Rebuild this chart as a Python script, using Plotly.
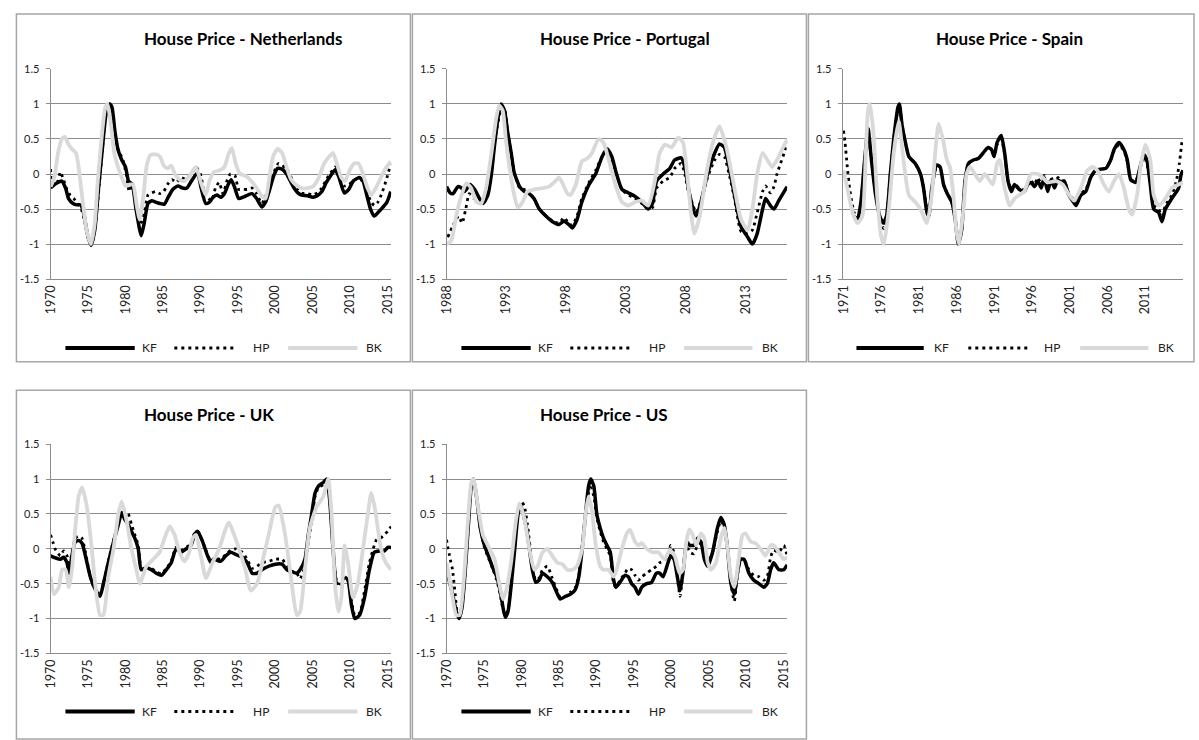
import plotly.graph_objects as go

W, H = 1199, 740

# ---------------- Netherlands ----------------
NL_KF_X = [1970, 1970.5, 1971, 1971.5, 1972, 1972.4, 1973, 1973.5, 1974, 1974.4, 1974.9, 1975.4, 1975.9, 1976.4,
           1976.9, 1977.4, 1977.9, 1978.2, 1978.6, 1979, 1979.5, 1980, 1980.4, 1980.9, 1981.4, 1982.1, 1982.5, 1983,
           1983.5, 1984, 1984.6, 1985.2, 1985.7, 1986.3, 1987, 1987.6, 1988.2, 1988.8, 1989.6, 1990.1, 1990.7,
           1991.2, 1991.7, 1992.2, 1992.7, 1993.2, 1993.7, 1994.1, 1994.6, 1995.1, 1995.7, 1996.3, 1996.9, 1997.5,
           1998.2, 1998.7, 1999.3, 1999.8, 2000.3, 2000.9, 2001.5, 2002, 2002.5, 2003, 2003.5, 2004.3, 2005, 2005.6,
           2006.2, 2006.8, 2007.4, 2008, 2008.5, 2009.2, 2009.8, 2010.4, 2011.2, 2011.7, 2012.2, 2012.7, 2013.2,
           2013.7, 2014.3, 2014.9, 2015.4]
NL_KF_Y = [-0.2, -0.15, -0.12, -0.1, -0.2, -0.35, -0.42, -0.44, -0.44, -0.55, -0.85, -1.02, -0.8, -0.2,
           0.35, 0.85, 1.0, 0.95, 0.6, 0.35, 0.2, 0.1, -0.1, -0.15, -0.5, -0.88, -0.7, -0.42,
           -0.38, -0.4, -0.42, -0.43, -0.33, -0.22, -0.17, -0.2, -0.2, -0.1, 0.02, -0.2, -0.42,
           -0.4, -0.33, -0.3, -0.33, -0.28, -0.15, -0.08, -0.2, -0.35, -0.33, -0.3, -0.28, -0.35,
           -0.47, -0.4, -0.2, -0.02, 0.08, 0.07, 0.0, -0.1, -0.2, -0.27, -0.3, -0.31, -0.33, -0.31,
           -0.25, -0.12, -0.02, 0.06, -0.05, -0.27, -0.22, -0.1, -0.05, -0.1, -0.3, -0.5, -0.6,
           -0.55, -0.48, -0.4, -0.25]
NL_HP_X = [1970, 1970.2, 1970.6, 1971, 1971.3, 1971.7, 1972.1, 1972.6, 1973.1, 1973.6, 1974.1, 1974.6, 1975.1,
           1975.5, 1976, 1976.5, 1977, 1977.5, 1978, 1978.5, 1979, 1979.6, 1980.1, 1980.5, 1980.9, 1981.4, 1982,
           1982.5, 1983, 1983.5, 1984, 1984.6, 1985.1, 1985.6, 1986.2, 1986.8, 1987.4, 1988, 1988.8, 1989.4, 1990,
           1990.6, 1991.1, 1991.5, 1992, 1992.5, 1993, 1993.6, 1994, 1994.6, 1995.1, 1995.7, 1996.3, 1996.9,
           1997.5, 1998.2, 1998.7, 1999.3, 1999.8, 2000.4, 2000.9, 2001.5, 2002, 2002.5, 2003, 2003.5, 2004.3,
           2005, 2005.6, 2006.2, 2006.8, 2007.4, 2008, 2008.5, 2009.2, 2009.8, 2010.4, 2011.2, 2011.7, 2012.2,
           2012.7, 2013.2, 2013.7, 2014.3, 2014.9, 2015.4]
NL_HP_Y = [0.07, -0.2, -0.12, -0.1, 0.03, -0.07, -0.2, -0.3, -0.35, -0.42, -0.5, -0.7, -0.95,
           -1.0, -0.7, -0.15, 0.45, 0.95, 1.0, 0.65, 0.35, 0.22, 0.0, -0.25, -0.15, -0.45, -0.72,
           -0.55, -0.3, -0.27, -0.25, -0.28, -0.25, -0.15, -0.08, -0.12, -0.05, -0.07, 0.0, 0.1, 0.0,
           -0.3, -0.35, -0.38, -0.2, -0.12, -0.28, -0.08, 0.0, -0.02, -0.22, -0.22, -0.22, -0.2,
           -0.28, -0.42, -0.32, -0.15, 0.02, 0.15, 0.12, 0.08, -0.02, -0.15, -0.22, -0.27, -0.28,
           -0.3, -0.27, -0.2, -0.08, 0.02, 0.1, -0.02, -0.17, -0.15, -0.1, -0.05, -0.12, -0.25,
           -0.38, -0.45, -0.4, -0.25, -0.05, 0.15]
NL_BK_X = [1970, 1970.5, 1971, 1971.5, 1971.9, 1972.4, 1972.9, 1973.4, 1973.8, 1974.3, 1974.8, 1975.4, 1975.9,
           1976.3, 1976.8, 1977.3, 1977.6, 1978, 1978.5, 1979, 1979.5, 1980, 1980.5, 1981, 1981.5, 1981.9, 1982.4,
           1982.8, 1983.3, 1984, 1984.6, 1985.1, 1985.6, 1986.1, 1986.6, 1987.2, 1987.8, 1988.4, 1989, 1989.4,
           1990, 1990.7, 1991.2, 1991.8, 1992.5, 1993.2, 1993.8, 1994.2, 1994.7, 1995.3, 1996.1, 1996.8, 1997.5,
           1998.1, 1998.7, 1999.2, 1999.7, 2000.3, 2000.9, 2001.5, 2002.1, 2002.8, 2003.5, 2004.3, 2005.1, 2005.8,
           2006.5, 2007.2, 2007.7, 2008.2, 2008.8, 2009.3, 2009.9, 2010.5, 2011.1, 2011.7, 2012.3, 2012.8, 2013.4,
           2014.1, 2014.7, 2015.4]
NL_BK_Y = [-0.18, -0.05, 0.3, 0.5, 0.53, 0.42, 0.35, 0.3, 0.05, -0.4, -0.8, -1.0, -0.7,
           -0.1, 0.5, 0.95, 1.0, 0.75, 0.3, 0.1, -0.05, -0.17, -0.15, -0.15, -0.45, -0.65, -0.3,
           0.1, 0.27, 0.28, 0.25, 0.12, 0.08, 0.12, 0.0, -0.08, -0.1, -0.05, 0.05, 0.1,
           -0.1, -0.3, -0.1, 0.03, 0.05, 0.1, 0.3, 0.37, 0.15, 0.0, -0.03, -0.1, -0.2,
           -0.3, -0.35, -0.05, 0.25, 0.36, 0.3, 0.1, -0.08, -0.16, -0.2, -0.2, -0.17, -0.05,
           0.15, 0.25, 0.3, 0.15, -0.05, -0.1, 0.05, 0.15, 0.15, 0.0, -0.2, -0.3, -0.2,
           -0.05, 0.08, 0.18]

# ---------------- Portugal ----------------
PT_KF_X = [1988.0, 1988.3, 1988.55, 1988.95, 1989.25, 1989.5, 1989.95, 1990.35, 1990.75, 1991.05, 1991.45,
           1991.75, 1992.0, 1992.3, 1992.55, 1992.85, 1993.1, 1993.4, 1993.65, 1994.1, 1994.5, 1994.9, 1995.3,
           1995.75, 1996.3, 1996.85, 1997.4, 1997.8, 1998.2, 1998.5, 1998.9, 1999.3, 1999.9, 2000.45, 2001.0,
           2001.4, 2001.8, 2002.2, 2002.65, 2003.2, 2003.75, 2004.3, 2004.85, 2005.2, 2005.55, 2006.1, 2006.65,
           2007.05, 2007.6, 2007.9, 2008.2, 2008.6, 2008.85, 2009.25, 2009.8, 2010.4, 2010.8, 2011.2, 2011.6,
           2012.05, 2012.6, 2013.15, 2013.55, 2013.95, 2014.4, 2014.65, 2015.05, 2015.35, 2015.75, 2016.45]
PT_KF_Y = [-0.18, -0.27, -0.28, -0.18, -0.2, -0.25, -0.15, -0.22, -0.35, -0.42, -0.3,
           0.0, 0.4, 0.8, 1.0, 0.9, 0.6, 0.3, 0.02, -0.18, -0.25, -0.28, -0.35,
           -0.5, -0.6, -0.68, -0.72, -0.67, -0.72, -0.77, -0.65, -0.4, -0.15, 0.0, 0.25,
           0.36, 0.25, 0.0, -0.22, -0.27, -0.32, -0.4, -0.5, -0.42, -0.1, 0.0, 0.08,
           0.2, 0.23, 0.1, -0.2, -0.5, -0.6, -0.4, 0.0, 0.3, 0.43, 0.38, 0.1,
           -0.3, -0.75, -0.9, -1.0, -0.85, -0.5, -0.35, -0.45, -0.5, -0.38, -0.18]
PT_HP_X = [1988.1, 1988.5, 1989.0, 1989.3, 1989.6, 1989.9, 1990.3, 1990.7, 1991.1, 1991.5, 1991.8, 1992.05,
           1992.35, 1992.6, 1992.85, 1993.1, 1993.4, 1993.7, 1994.1, 1994.5, 1994.9, 1995.3, 1995.75, 1996.3,
           1996.85, 1997.4, 1997.8, 1998.2, 1998.5, 1998.9, 1999.3, 1999.9, 2000.45, 2001.0, 2001.4, 2001.8,
           2002.2, 2002.65, 2003.2, 2003.75, 2004.3, 2004.85, 2005.2, 2005.55, 2006.1, 2006.65, 2007.05, 2007.6,
           2007.9, 2008.2, 2008.6, 2008.85, 2009.25, 2009.8, 2010.4, 2010.8, 2011.2, 2011.6, 2012.05, 2012.6,
           2013.15, 2013.55, 2013.95, 2014.4, 2014.65, 2015.05, 2015.35, 2015.6, 2015.9, 2016.2, 2016.45]
PT_HP_Y = [-0.9, -0.75, -0.6, -0.7, -0.5, -0.28, -0.35, -0.4, -0.42, -0.2, 0.1, 0.5,
           0.78, 0.95, 0.92, 0.6, 0.3, 0.0, -0.2, -0.22, -0.28, -0.35, -0.5, -0.6,
           -0.67, -0.7, -0.62, -0.7, -0.73, -0.6, -0.35, -0.12, 0.05, 0.25, 0.33, 0.22,
           0.0, -0.22, -0.3, -0.35, -0.42, -0.5, -0.48, -0.2, -0.1, -0.05, 0.08, 0.15,
           0.0, -0.25, -0.45, -0.55, -0.38, -0.05, 0.2, 0.28, 0.25, 0.0, -0.35, -0.82,
           -0.85, -0.8, -0.55, -0.25, -0.17, -0.27, -0.18, 0.0, 0.15, 0.3, 0.48]
PT_BK_X = [1988.0, 1988.4, 1988.8, 1989.25, 1989.65, 1990.05, 1990.5, 1990.9, 1991.3, 1991.75, 1992.15, 1992.4,
           1992.7, 1992.95, 1993.25, 1993.65, 1993.95, 1994.35, 1994.75, 1995.3, 1996.0, 1996.55, 1997.1, 1997.4,
           1997.65, 1998.1, 1998.35, 1998.8, 1999.3, 1999.75, 2000.15, 2000.7, 2001.1, 2001.55, 2002.1, 2002.65,
           2003.2, 2003.75, 2004.3, 2004.85, 2005.4, 2005.8, 2006.25, 2006.8, 2007.35, 2007.75, 2008.1, 2008.45,
           2008.7, 2009.15, 2009.7, 2010.25, 2010.8, 2011.35, 2012.05, 2012.6, 2013.15, 2013.55, 2013.95, 2014.4,
           2014.8, 2015.2, 2015.6, 2016.45]
PT_BK_Y = [-1.0, -0.95, -0.6, -0.3, -0.13, -0.2, -0.4, -0.42, -0.2, 0.3, 0.8, 0.98,
           0.9, 0.5, 0.1, -0.3, -0.48, -0.4, -0.25, -0.22, -0.2, -0.18, -0.1, -0.05,
           -0.12, -0.28, -0.3, -0.15, 0.18, 0.22, 0.3, 0.5, 0.45, 0.2, -0.15, -0.4,
           -0.45, -0.4, -0.38, -0.45, -0.1, 0.3, 0.42, 0.38, 0.52, 0.45, 0.0, -0.6,
           -0.85, -0.6, 0.0, 0.45, 0.68, 0.4, -0.2, -0.65, -0.8, -0.5, 0.0, 0.3,
           0.2, 0.1, 0.2, 0.5]

# ---------------- Spain ----------------
ES_KF_X = [1972.4, 1972.85, 1973.3, 1973.8, 1974.25, 1974.7, 1975.25, 1975.8, 1976.25, 1976.7, 1977.2, 1977.65,
           1978.2, 1978.4, 1978.75, 1979.2, 1979.65, 1980.5, 1981.2, 1981.6, 1982.05, 1982.3, 1982.7, 1983.35,
           1983.8, 1984.25, 1984.75, 1985.35, 1985.8, 1986.2, 1986.65, 1987.1, 1987.55, 1988.2, 1988.85, 1989.5,
           1990.15, 1990.6, 1990.95, 1991.35, 1991.9, 1992.35, 1992.8, 1993.25, 1993.65, 1994.3, 1994.95, 1995.4,
           1995.85, 1996.3, 1996.75, 1997.2, 1997.6, 1998.05, 1998.5, 1998.95, 1999.4, 1999.8, 2000.25, 2000.85,
           2001.35, 2001.8, 2002.45, 2003.1, 2003.75, 2004.4, 2005.1, 2005.75, 2006.4, 2006.85, 2007.5, 2008.15,
           2008.6, 2009.05, 2009.7, 2010.35, 2010.8, 2011.2, 2011.65, 2012.1, 2012.75, 2013.2, 2013.65, 2014.5,
           2015.4, 2015.75, 2016.0]
ES_KF_Y = [-0.6, -0.65, -0.4, 0.2, 0.65, 0.2, -0.3, -0.6, -0.7, -0.6, 0.0, 0.5,
           0.95, 1.0, 0.7, 0.45, 0.25, 0.15, 0.0, -0.2, -0.55, -0.6, -0.2, 0.13,
           0.1, -0.15, -0.28, -0.4, -0.65, -1.0, -0.8, -0.1, 0.15, 0.2, 0.22, 0.3,
           0.38, 0.35, 0.25, 0.45, 0.55, 0.3, -0.1, -0.25, -0.15, -0.22, -0.25, -0.15,
           -0.12, -0.18, -0.1, -0.2, -0.05, -0.25, -0.08, -0.2, -0.08, -0.12, -0.1, -0.3,
           -0.38, -0.45, -0.3, -0.25, -0.05, 0.05, 0.07, 0.08, 0.2, 0.35, 0.45, 0.35,
           0.2, -0.08, -0.12, 0.12, 0.28, 0.2, -0.15, -0.5, -0.55, -0.68, -0.5, -0.35,
           -0.2, 0.0, 0.05]
ES_HP_X = [1971.0, 1971.2, 1971.5, 1971.8, 1972.1, 1972.4, 1972.85, 1973.3, 1973.8, 1974.25, 1974.7, 1975.25,
           1975.8, 1976.3, 1976.7, 1977.2, 1977.65, 1978.2, 1978.4, 1978.75, 1979.2, 1979.65, 1980.5, 1981.2,
           1981.6, 1982.05, 1982.3, 1982.7, 1983.35, 1983.8, 1984.25, 1984.75, 1985.35, 1985.8, 1986.2, 1986.65,
           1987.1, 1987.55, 1988.2, 1988.85, 1989.5, 1990.15, 1990.6, 1990.95, 1991.35, 1991.9, 1992.35, 1992.8,
           1993.25, 1993.65, 1994.3, 1994.95, 1995.4, 1995.85, 1996.3, 1996.75, 1997.2, 1997.6, 1998.05, 1998.5,
           1998.95, 1999.4, 1999.8, 2000.25, 2000.85, 2001.35, 2001.8, 2002.45, 2003.1, 2003.75, 2004.4, 2005.1,
           2005.75, 2006.4, 2006.85, 2007.5, 2008.15, 2008.6, 2009.05, 2009.7, 2010.35, 2010.8, 2011.2, 2011.65,
           2012.1, 2012.75, 2013.2, 2013.65, 2014.5, 2015.1, 2015.5, 2015.85]
ES_HP_Y = [0.62, 0.45, 0.1, -0.2, -0.4, -0.55, -0.63, -0.4, 0.2, 0.6, 0.2, -0.3,
           -0.6, -0.78, -0.6, 0.0, 0.5, 0.92, 0.98, 0.7, 0.45, 0.25, 0.15, 0.0,
           -0.2, -0.5, -0.58, -0.2, 0.12, 0.1, -0.15, -0.28, -0.4, -0.65, -0.98, -0.8,
           -0.1, 0.15, 0.2, 0.22, 0.3, 0.38, 0.35, 0.25, 0.42, 0.5, 0.28, -0.1,
           -0.22, -0.15, -0.2, -0.22, -0.15, -0.1, -0.15, -0.05, -0.15, -0.02, -0.2, -0.05,
           -0.15, -0.05, -0.1, -0.1, -0.28, -0.35, -0.42, -0.28, -0.22, -0.05, 0.05, 0.07,
           0.08, 0.2, 0.33, 0.42, 0.33, 0.18, -0.08, -0.1, 0.1, 0.25, 0.15, -0.15,
           -0.45, -0.5, -0.6, -0.45, -0.3, -0.1, 0.15, 0.47]
ES_BK_X = [1971.0, 1971.5, 1972.2, 1972.85, 1973.5, 1973.95, 1974.25, 1974.5, 1974.95, 1975.45, 1976.0, 1976.35,
           1977.0, 1977.65, 1978.3, 1978.95, 1979.65, 1980.5, 1981.2, 1982.05, 1982.7, 1983.15, 1983.6, 1984.15,
           1984.7, 1985.1, 1985.55, 1986.0, 1986.3, 1986.9, 1987.3, 1987.75, 1988.4, 1989.05, 1989.7, 1990.4,
           1990.8, 1991.35, 1991.7, 1992.35, 1993.0, 1993.65, 1994.3, 1994.95, 1995.85, 1996.75, 1997.4, 1998.05,
           1999.15, 2000.05, 2000.9, 2001.55, 2002.45, 2003.3, 2004.0, 2004.65, 2005.5, 2006.15, 2006.85, 2007.5,
           2008.15, 2008.8, 2009.25, 2009.9, 2010.35, 2011.0, 2011.65, 2012.1, 2012.75, 2013.65, 2014.5, 2015.4,
           2016.0]
ES_BK_Y = [0.05, -0.2, -0.55, -0.7, -0.6, 0.3, 0.92, 1.0, 0.6, -0.3, -0.9, -1.0,
           -0.5, 0.3, 0.75, 0.2, -0.3, -0.4, -0.5, -0.7, -0.3, 0.3, 0.72, 0.5,
           0.2, 0.1, -0.3, -0.85, -1.0, -0.5, 0.0, 0.1, 0.0, -0.1, 0.0, -0.1,
           -0.15, 0.15, 0.2, -0.2, -0.45, -0.35, -0.3, -0.25, 0.0, 0.0, -0.05, -0.12,
           -0.1, -0.15, -0.3, -0.38, -0.2, 0.05, 0.1, 0.05, -0.15, -0.25, -0.1, 0.0,
           -0.2, -0.5, -0.58, -0.3, 0.1, 0.42, 0.2, -0.3, -0.45, -0.35, -0.2, -0.15,
           -0.12]

# ---------------- UK ----------------
UK_KF_X = [1970.0, 1970.65, 1971.3, 1971.75, 1972.2, 1972.45, 1972.85, 1973.3, 1973.75, 1974.2, 1974.65, 1975.3,
           1975.95, 1976.6, 1977.05, 1977.7, 1978.4, 1979.05, 1979.5, 1979.9, 1980.35, 1980.8, 1981.25, 1981.7,
           1982.1, 1982.8, 1983.45, 1984.1, 1984.8, 1985.45, 1986.1, 1986.75, 1987.4, 1988.1, 1988.75, 1989.2,
           1989.65, 1990.3, 1990.95, 1991.4, 1991.85, 1992.7, 1993.4, 1994.05, 1994.7, 1995.6, 1996.25, 1996.9,
           1997.55, 1998.2, 1999.1, 2000.0, 2000.9, 2001.55, 2002.2, 2002.85, 2003.3, 2003.95, 2004.4, 2004.85,
           2005.3, 2005.75, 2006.4, 2006.85, 2007.25, 2007.7, 2008.15, 2008.4, 2008.8, 2009.25, 2009.7, 2010.15,
           2010.6, 2011.25, 2011.9, 2012.55, 2013.2, 2013.9, 2014.55, 2015.0, 2015.45]
UK_KF_Y = [-0.1, -0.13, -0.15, -0.12, -0.2, -0.35, -0.1, 0.1, 0.12, 0.08, -0.1, -0.4,
           -0.58, -0.68, -0.5, -0.2, 0.1, 0.35, 0.52, 0.42, 0.35, 0.25, 0.15, 0.0,
           -0.3, -0.27, -0.3, -0.35, -0.38, -0.3, -0.2, 0.0, -0.05, 0.0, 0.05, 0.2,
           0.25, 0.1, -0.1, -0.2, -0.15, -0.18, -0.1, -0.05, -0.08, -0.12, -0.2, -0.35,
           -0.35, -0.3, -0.25, -0.22, -0.22, -0.3, -0.33, -0.35, -0.3, -0.15, 0.2, 0.5,
           0.8, 0.9, 0.95, 1.0, 0.7, 0.0, -0.5, -0.48, None, -0.4, -0.45, -0.8,
           -1.0, -0.95, -0.7, -0.3, -0.05, -0.03, -0.03, 0.02, 0.02]
UK_HP_X = [1970.0, 1970.3, 1970.6, 1971.3, 1971.75, 1972.2, 1972.45, 1972.85, 1973.3, 1973.75, 1974.2, 1974.65,
           1975.3, 1975.95, 1976.6, 1977.05, 1977.7, 1978.4, 1979.05, 1979.5, 1979.9, 1980.35, 1980.8, 1981.25,
           1981.7, 1982.1, 1982.8, 1983.45, 1984.1, 1984.8, 1985.45, 1986.1, 1986.75, 1987.4, 1988.1, 1988.75,
           1989.2, 1989.65, 1990.3, 1990.95, 1991.4, 1991.85, 1992.7, 1993.4, 1994.05, 1994.7, 1995.6, 1996.25,
           1996.9, 1997.55, 1998.2, 1999.1, 2000.0, 2000.9, 2001.55, 2002.2, 2002.85, 2003.3, 2003.95, 2004.4,
           2004.85, 2005.3, 2005.75, 2006.4, 2006.85, 2007.25, 2007.7, 2008.15, 2008.5, 2008.8, 2009.25, 2009.7,
           2010.15, 2010.6, 2011.25, 2011.9, 2012.55, 2013.2, 2013.5, 2014.0, 2014.5, 2015.0, 2015.45]
UK_HP_Y = [0.2, 0.1, 0.0, -0.1, -0.03, -0.1, -0.3, -0.05, 0.15, 0.18, 0.15, -0.05,
           -0.4, -0.58, -0.65, -0.5, -0.18, 0.12, 0.38, 0.52, 0.45, 0.5, 0.35, 0.2,
           0.05, -0.28, -0.25, -0.28, -0.33, -0.36, -0.28, -0.18, 0.02, -0.03, 0.02, 0.07,
           0.22, 0.25, 0.1, -0.08, -0.18, -0.13, -0.15, -0.08, -0.02, 0.0, -0.05, -0.15,
           -0.28, -0.25, -0.2, -0.18, -0.15, -0.15, -0.25, -0.32, -0.35, -0.43, -0.25, 0.1,
           0.4, 0.75, 0.88, 0.92, 1.0, 0.72, 0.0, -0.45, -0.5, -0.5, -0.4, -0.45,
           -0.75, -0.95, -0.92, -0.6, -0.2, 0.05, 0.13, 0.15, 0.2, 0.25, 0.32]
UK_BK_X = [1970.0, 1970.45, 1971.1, 1971.55, 1972.0, 1972.45, 1972.85, 1973.3, 1973.75, 1974.2, 1974.85, 1975.5,
           1975.95, 1976.6, 1977.05, 1977.7, 1978.4, 1979.05, 1979.5, 1980.15, 1980.8, 1981.45, 1981.9, 1982.8,
           1983.7, 1984.55, 1985.2, 1985.9, 1986.55, 1987.2, 1987.85, 1988.5, 1988.95, 1989.4, 1990.05, 1990.75,
           1991.6, 1992.5, 1993.4, 1993.8, 1994.5, 1995.15, 1996.0, 1996.7, 1997.55, 1998.45, 1999.1, 2000.0,
           2000.45, 2001.3, 2002.2, 2002.85, 2003.3, 2003.95, 2004.6, 2005.5, 2006.4, 2007.05, 2007.5, 2007.95,
           2008.4, 2008.8, 2009.25, 2009.7, 2010.35, 2011.0, 2011.7, 2012.35, 2012.8, 2013.25, 2014.1, 2014.75,
           2015.45]
UK_BK_Y = [-0.4, -0.65, -0.55, -0.3, -0.3, -0.55, -0.3, 0.3, 0.75, 0.88, 0.6, 0.0,
           -0.5, -0.95, -0.95, -0.4, 0.0, 0.5, 0.68, 0.4, 0.0, -0.3, -0.5, -0.25,
           -0.15, -0.05, 0.15, 0.32, 0.2, -0.05, -0.18, -0.05, 0.15, 0.2, -0.1, -0.42,
           -0.2, 0.0, 0.3, 0.38, 0.2, 0.0, -0.3, -0.6, -0.5, -0.1, 0.2, 0.6,
           0.62, 0.2, -0.5, -0.95, -0.9, -0.3, 0.3, 0.6, 0.75, 1.0, 0.5, -0.5,
           -0.9, -0.7, 0.05, -0.2, -0.7, -0.5, 0.0, 0.5, 0.8, 0.6, 0.0, -0.2,
           -0.3]

# ---------------- US ----------------
US_KF_X = [1970.0, 1970.45, 1970.9, 1971.3, 1971.65, 1972.05, 1972.5, 1972.95, 1973.3, 1973.6, 1974.05, 1974.5,
           1975.05, 1975.65, 1976.2, 1976.7, 1977.15, 1977.6, 1977.85, 1978.2, 1978.65, 1979.1, 1979.55, 1979.9,
           1980.35, 1980.8, 1981.45, 1981.9, 1982.35, 1982.8, 1983.45, 1984.1, 1984.8, 1985.2, 1985.9, 1986.55,
           1987.2, 1987.65, 1988.1, 1988.55, 1988.95, 1989.25, 1989.65, 1990.05, 1990.5, 1990.95, 1991.4, 1991.85,
           1992.3, 1992.6, 1993.15, 1993.8, 1994.25, 1994.7, 1995.15, 1995.6, 1996.05, 1996.7, 1997.35, 1998.0,
           1998.45, 1998.9, 1999.55, 1999.9, 2000.35, 2000.8, 2001.15, 2001.6, 2002.05, 2002.45, 2003.0, 2003.5,
           2003.95, 2004.4, 2004.85, 2005.5, 2006.15, 2006.6, 2007.05, 2007.5, 2007.95, 2008.4, 2008.8, 2009.25,
           2009.7, 2010.35, 2011.0, 2011.7, 2012.35, 2012.8, 2013.25, 2013.65, 2014.35, 2015.0, 2015.45]
US_KF_Y = [-0.3, -0.5, -0.7, -0.9, -1.0, -0.85, -0.3, 0.4, 0.9, 1.0, 0.7, 0.3,
           0.05, -0.12, -0.28, -0.4, -0.6, -0.88, -0.98, -0.9, -0.5, 0.0, 0.5, 0.62,
           0.45, 0.2, -0.3, -0.48, -0.45, -0.35, -0.4, -0.48, -0.65, -0.72, -0.68, -0.65,
           -0.58, -0.4, 0.0, 0.5, 0.9, 1.0, 0.9, 0.5, 0.3, 0.15, 0.05, -0.05,
           -0.45, -0.55, -0.48, -0.38, -0.4, -0.5, -0.55, -0.65, -0.55, -0.5, -0.48, -0.35,
           -0.35, -0.4, -0.2, -0.1, -0.15, -0.4, -0.6, -0.3, 0.1, 0.05, 0.05, 0.15,
           0.1, -0.15, -0.25, -0.05, 0.3, 0.45, 0.35, 0.0, -0.5, -0.65, -0.35, -0.15,
           -0.15, -0.35, -0.45, -0.5, -0.55, -0.5, -0.3, -0.2, -0.3, -0.3, -0.23]
US_HP_X = [1970.0, 1970.15, 1970.35, 1970.55, 1970.8, 1971.1, 1971.5, 1972.0, 1972.5, 1972.95, 1973.3, 1973.6,
           1974.05, 1974.5, 1975.05, 1975.65, 1976.2, 1976.7, 1977.15, 1977.6, 1977.85, 1978.2, 1978.65, 1979.1,
           1979.55, 1979.9, 1980.35, 1980.8, 1981.45, 1981.9, 1982.35, 1982.8, 1983.45, 1984.1, 1984.8, 1985.2,
           1985.9, 1986.55, 1987.2, 1987.65, 1988.1, 1988.55, 1988.95, 1989.25, 1989.65, 1990.05, 1990.5, 1990.95,
           1991.4, 1991.85, 1992.3, 1992.6, 1993.15, 1993.8, 1994.25, 1994.7, 1995.15, 1995.6, 1996.05, 1996.7,
           1997.35, 1998.0, 1998.45, 1998.9, 1999.55, 1999.9, 2000.35, 2000.8, 2001.15, 2001.6, 2002.05, 2002.45,
           2003.0, 2003.5, 2003.95, 2004.4, 2004.85, 2005.5, 2006.15, 2006.6, 2007.05, 2007.5, 2007.95, 2008.4,
           2008.8, 2009.25, 2009.7, 2010.35, 2011.0, 2011.7, 2012.35, 2012.8, 2013.25, 2013.65, 2014.35, 2015.0,
           2015.45]
US_HP_Y = [0.13, 0.03, -0.07, -0.18, -0.3, -0.6, -0.95, -0.85, -0.3, 0.4, 0.9, 0.98,
           0.68, 0.3, 0.02, -0.15, -0.3, -0.45, -0.65, -0.9, -0.95, -0.88, -0.45, 0.05,
           0.55, 0.68, 0.62, 0.35, -0.25, -0.45, -0.42, -0.3, -0.25, -0.42, -0.62, -0.7,
           -0.68, -0.62, -0.55, -0.38, 0.05, 0.5, 0.8, 0.88, 0.75, 0.45, 0.25, 0.1,
           0.0, -0.1, -0.5, -0.55, -0.45, -0.35, -0.28, -0.3, -0.38, -0.45, -0.4, -0.35,
           -0.3, -0.25, -0.2, -0.18, -0.1, 0.05, -0.05, -0.4, -0.68, -0.3, 0.05, -0.05,
           -0.07, 0.05, 0.08, -0.1, -0.2, -0.05, 0.25, 0.4, 0.32, 0.0, -0.5, -0.75,
           -0.4, -0.15, -0.15, -0.3, -0.38, -0.4, -0.45, -0.4, -0.12, -0.02, -0.05, 0.05,
           -0.1]
US_BK_X = [1970.0, 1970.65, 1971.3, 1971.75, 1972.4, 1972.85, 1973.3, 1973.6, 1974.2, 1974.85, 1975.75, 1976.4,
           1977.05, 1977.5, 1977.95, 1978.6, 1979.25, 1979.7, 1980.35, 1981.05, 1981.7, 1982.15, 1982.8, 1983.45,
           1984.1, 1984.8, 1985.45, 1986.1, 1986.75, 1987.4, 1988.1, 1988.55, 1988.95, 1989.4, 1989.85, 1990.5,
           1990.95, 1991.6, 1992.3, 1992.7, 1993.4, 1994.05, 1994.5, 1995.15, 1995.6, 1996.05, 1996.7, 1997.55,
           1998.25, 1999.1, 1999.8, 2000.45, 2001.1, 2001.55, 2002.0, 2002.4, 2002.85, 2003.3, 2003.95, 2004.4,
           2004.85, 2005.3, 2005.95, 2006.6, 2007.05, 2007.5, 2007.95, 2008.4, 2009.05, 2009.5, 2009.9, 2010.6,
           2011.25, 2011.9, 2012.55, 2013.25, 2013.65, 2014.35, 2015.0, 2015.45]
US_BK_Y = [-0.2, -0.6, -0.95, -0.95, -0.3, 0.4, 0.95, 1.0, 0.6, 0.2, 0.0, -0.15,
           -0.5, -0.72, -0.6, -0.2, 0.4, 0.65, 0.45, 0.0, -0.3, -0.25, -0.05, 0.0,
           -0.1, -0.2, -0.22, -0.3, -0.3, -0.25, 0.0, 0.5, 0.75, 0.55, 0.1, -0.25,
           -0.3, -0.3, -0.4, -0.3, 0.0, 0.22, 0.27, 0.1, 0.05, 0.08, 0.0, -0.05,
           -0.05, -0.15, -0.02, -0.1, -0.35, -0.3, 0.1, 0.28, 0.2, 0.05, 0.22, 0.15,
           -0.2, -0.3, -0.2, 0.15, 0.3, 0.0, -0.4, -0.55, -0.1, 0.2, 0.22, 0.1,
           0.08, 0.0, -0.1, 0.05, 0.05, -0.05, -0.15, -0.12]

Y_TICKS = [-1.5, -1, -0.5, 0, 0.5, 1, 1.5]
Y_TICK_TEXT = ["-1.5", "-1", "-0.5", "0", "0.5", "1", "1.5"]
YEARS_1970 = [1970, 1975, 1980, 1985, 1990, 1995, 2000, 2005, 2010, 2015]
YEARS_1988 = [1988, 1993, 1998, 2003, 2008, 2013]
YEARS_1971 = [1971, 1976, 1981, 1986, 1991, 1996, 2001, 2006, 2011]

SERIES_NAMES = ["KF", "HP", "BK"]

FONT = "Lato, 'Open Sans', sans-serif"
GRID = "#8c8c8c"
KF_COLOR = "#000000"
HP_COLOR = "#000000"
BK_COLOR = "#d9d9d9"

# panel layout in pixels: box (x0, y0, x1, y1), plot area (x0, y0, x1, y1)
panels = [
    dict(title="House Price - Netherlands", box=(8.5, 7, 406.5, 361), plot=(43, 63, 387, 277),
         xr=(1970, 2015.45), ticks=YEARS_1970,
         kf=(NL_KF_X, NL_KF_Y), hp=(NL_HP_X, NL_HP_Y), bk=(NL_BK_X, NL_BK_Y),
         leg=(58, 128, 133, 168, 230, 245, 283, 353, 360), ly=347),
    dict(title="House Price - Portugal", box=(408.5, 7, 806.5, 361), plot=(443, 63, 787, 277),
         xr=(1988, 2016.45), ticks=YEARS_1988,
         kf=(PT_KF_X, PT_KF_Y), hp=(PT_HP_X, PT_HP_Y), bk=(PT_BK_X, PT_BK_Y),
         leg=(458, 528, 533, 568, 630, 645, 683, 752, 760), ly=347),
    dict(title="House Price - Spain", box=(808.5, 7, 1198, 361), plot=(843, 63, 1187, 277),
         xr=(1970.87, 2016.0), ticks=YEARS_1971,
         kf=(ES_KF_X, ES_KF_Y), hp=(ES_HP_X, ES_HP_Y), bk=(ES_BK_X, ES_BK_Y),
         leg=(857, 925, 933, 970, 1033, 1044, 1083, 1152, 1160), ly=347),
    dict(title="House Price - UK", box=(8.5, 390, 406.5, 745), plot=(43, 445, 387, 658),
         xr=(1970, 2015.45), ticks=YEARS_1970,
         kf=(UK_KF_X, UK_KF_Y), hp=(UK_HP_X, UK_HP_Y), bk=(UK_BK_X, UK_BK_Y),
         leg=(58, 128, 133, 168, 230, 245, 283, 353, 360), ly=717),
    dict(title="House Price - US", box=(408.5, 390, 806.5, 745), plot=(443, 445, 787, 658),
         xr=(1970, 2015.45), ticks=YEARS_1970,
         kf=(US_KF_X, US_KF_Y), hp=(US_HP_X, US_HP_Y), bk=(US_BK_X, US_BK_Y),
         leg=(458, 528, 533, 568, 630, 645, 683, 752, 760), ly=717),
]


def px(x):
    return x / W


def py(y):
    return 1 - y / H


fig = go.Figure()
shapes = []
annotations = []
layout = {}

for i, p in enumerate(panels, start=1):
    sfx = "" if i == 1 else str(i)
    xref, yref = "x" + sfx, "y" + sfx
    x0, y0, x1, y1 = p["plot"]

    styles = [
        (p["kf"], dict(color=KF_COLOR, width=3.5)),
        (p["hp"], dict(color=HP_COLOR, width=2.8, dash="2.8px,4px")),
        (p["bk"], dict(color=BK_COLOR, width=3.8)),
    ]
    for name, ((xs, ys), line) in zip(SERIES_NAMES, styles):
        fig.add_trace(go.Scatter(
            x=xs, y=ys, mode="lines", name=name, showlegend=False,
            line=dict(shape="spline", smoothing=0.55, **line),
            connectgaps=False, xaxis=xref, yaxis=yref, hoverinfo="skip"))

    layout["xaxis" + sfx] = dict(
        domain=[px(x0), px(x1)], anchor=yref, range=list(p["xr"]),
        tickmode="array", tickvals=p["ticks"], ticktext=[str(t) for t in p["ticks"]],
        tickangle=-90, showgrid=False, zeroline=False, showline=True, linecolor=GRID, linewidth=1,
        ticks="", tickfont=dict(family=FONT, size=12.5, color="#222222"), fixedrange=True)
    layout["yaxis" + sfx] = dict(
        domain=[py(y1), py(y0)], anchor=xref, range=[-1.5, 1.5],
        tickmode="array", tickvals=Y_TICKS, ticktext=Y_TICK_TEXT,
        showgrid=True, gridcolor=GRID, gridwidth=1, zeroline=False,
        showline=True, linecolor=GRID, linewidth=1, ticks="outside", ticklen=4, tickcolor=GRID,
        ticklabelstandoff=4,
        tickfont=dict(family=FONT, size=11, color="#222222"), fixedrange=True)

    # chart box
    bx0, by0, bx1, by1 = p["box"]
    shapes.append(dict(type="rect", xref="paper", yref="paper", x0=px(bx0), x1=px(bx1),
                       y0=py(by1), y1=py(by0), line=dict(color="#a6a6a6", width=1.5)))
    # title
    annotations.append(dict(text="<b>%s</b>" % p["title"], xref="paper", yref="paper",
                            x=px(bx0 + 126.5), y=py(by0 + 25), xanchor="left", yanchor="middle",
                            showarrow=False, font=dict(family=FONT, size=17, color="#000000")))
    # legend
    k0, k1, kt, h0, h1, ht, b0, b1, bt = p["leg"]
    ly = py(p["ly"])
    shapes.append(dict(type="line", xref="paper", yref="paper", x0=px(k0), x1=px(k1), y0=ly, y1=ly,
                       line=dict(color=KF_COLOR, width=4)))
    shapes.append(dict(type="line", xref="paper", yref="paper", x0=px(h0), x1=px(h1), y0=ly, y1=ly,
                       line=dict(color=HP_COLOR, width=3, dash="3px,4px")))
    shapes.append(dict(type="line", xref="paper", yref="paper", x0=px(b0), x1=px(b1), y0=ly, y1=ly,
                       line=dict(color=BK_COLOR, width=4)))
    for name, tx in zip(SERIES_NAMES, (kt, ht, bt)):
        annotations.append(dict(text=name, xref="paper", yref="paper", x=px(tx), y=ly,
                                xanchor="left", yanchor="middle", showarrow=False,
                                font=dict(family=FONT, size=12, color="#222222")))

fig.update_layout(
    width=W, height=H, margin=dict(l=0, r=0, t=0, b=0),
    paper_bgcolor="white", plot_bgcolor="white", showlegend=False,
    shapes=shapes, annotations=annotations, **layout)

fig.write_html("out.html", config={"displayModeBar": False})
